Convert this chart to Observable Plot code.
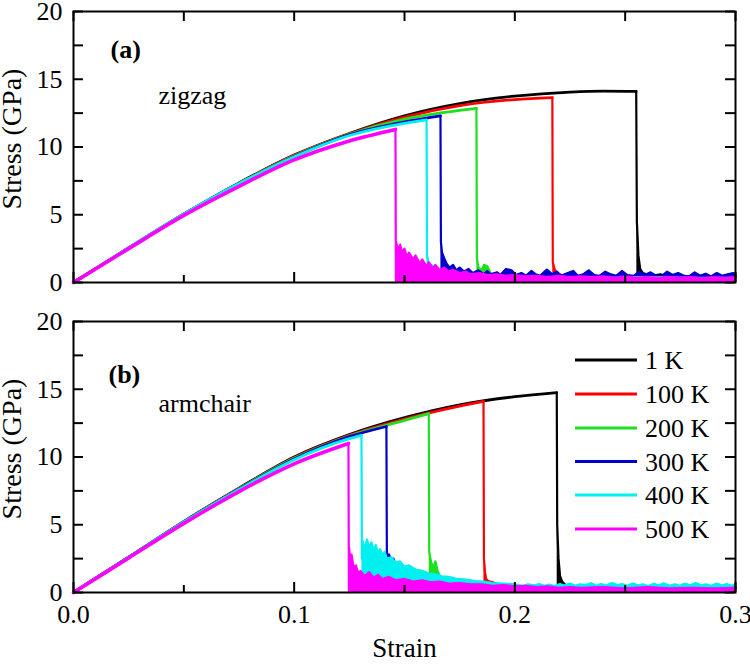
<!DOCTYPE html>
<html><head><meta charset="utf-8">
<script src="https://cdn.jsdelivr.net/npm/d3@7"></script>
<script src="https://cdn.jsdelivr.net/npm/@observablehq/plot@0.6"></script>
<style>
html,body{margin:0;padding:0;background:#fff;}
#chart{position:relative;width:750px;height:670px;}
#chart svg{position:absolute;left:0;display:block;}
</style></head><body><div id="chart"></div>
<script>
const temps = ["1 K", "100 K", "200 K", "300 K", "400 K", "500 K"];
const colors = ["#000000", "#ff0000", "#1fe01f", "#0000cc", "#00f0f0", "#ff00ff"];
const xMajor = [0, 0.1, 0.2, 0.3];
const xMinor = [0.05, 0.15, 0.25];
const yMajor = [0, 5, 10, 15, 20];
const yMinor = [2.5, 7.5, 12.5, 17.5];
const panelTags = ["(a)", "(b)"];
const panelNames = ["zigzag", "armchair"];

// ---- zigzag (a): loading branch [strain, stress GPa]
const zzLoad1K = [[0,0],[0.025,2.55],[0.05,5.05],[0.075,7.35],[0.1,9.4],[0.125,11.0],[0.15,12.3],[0.175,13.2],[0.2,13.75],[0.225,14.05],[0.24,14.12],[0.255,14.1]];
const zzLoad100K = [[0,0],[0.025,2.55],[0.05,5.05],[0.075,7.33],[0.1,9.38],[0.125,10.97],[0.15,12.2],[0.175,13.05],[0.2,13.5],[0.217,13.65]];
const zzLoad200K = [[0,0],[0.025,2.55],[0.05,5.03],[0.075,7.3],[0.1,9.33],[0.125,10.93],[0.15,12.05],[0.175,12.7],[0.1826,12.85]];
const zzLoad300K = [[0,0],[0.025,2.55],[0.05,5.03],[0.075,7.28],[0.1,9.3],[0.125,10.9],[0.15,11.85],[0.1663,12.3]];
const zzLoad400K = [[0,0],[0.025,2.57],[0.05,5.05],[0.075,7.3],[0.1,9.28],[0.125,10.85],[0.15,11.75],[0.16,12.0]];
const zzLoad500K = [[0,0],[0.025,2.5],[0.05,4.95],[0.075,7.1],[0.1,9.05],[0.125,10.45],[0.1459,11.3]];
// ---- zigzag (a): post-fracture branch
const zzTail1K = [[0.2553,4.5],[0.256,2.0],[0.2568,1.0],[0.258,0.7],[0.262,0.5],[0.266,0.6],[0.27,0.4],[0.275,0.55],[0.28,0.4],[0.285,0.5],[0.29,0.35],[0.295,0.5],[0.3,0.4]];
const zzTail100K = [[0.2172,1.5],[0.218,1.0],[0.219,0.7],[0.222,0.5],[0.226,0.6],[0.23,0.4],[0.235,0.5],[0.24,0.4],[0.25,0.45],[0.26,0.4],[0.27,0.45],[0.28,0.4],[0.29,0.4],[0.3,0.35]];
const zzTail200K = [[0.1828,1.8],[0.1835,1.1],[0.185,0.9],[0.186,1.3],[0.1875,1.2],[0.189,0.7],[0.192,0.5],[0.196,0.8],[0.2,0.4],[0.21,0.5],[0.22,0.4],[0.24,0.45],[0.26,0.4],[0.28,0.4],[0.3,0.35]];
const zzTail300K = [[0.1665,3.0],[0.167,2.2],[0.168,1.8],[0.169,1.4],[0.1705,1.1],[0.172,1.3],[0.1735,0.9],[0.175,1.1],[0.177,0.8],[0.179,1.0],[0.181,0.7],[0.1835,0.9],[0.186,0.6],[0.1875,0.85],[0.189,0.6],[0.192,0.75],[0.1935,0.55],[0.196,1.0],[0.1985,0.9],[0.2005,0.55],[0.203,0.7],[0.205,0.5],[0.2075,0.85],[0.2095,0.6],[0.2115,0.5],[0.2145,0.95],[0.217,0.6],[0.219,0.8],[0.221,0.5],[0.224,0.7],[0.2265,0.85],[0.2285,0.5],[0.231,0.6],[0.2335,0.9],[0.236,0.55],[0.2385,0.5],[0.241,0.8],[0.2435,0.6],[0.246,0.5],[0.2485,0.85],[0.251,0.55],[0.254,0.5],[0.2565,0.8],[0.259,0.55],[0.2615,0.75],[0.264,0.5],[0.2665,0.45],[0.269,0.8],[0.2715,0.55],[0.274,0.7],[0.2765,0.5],[0.279,0.45],[0.2815,0.75],[0.284,0.5],[0.2865,0.65],[0.289,0.45],[0.2915,0.7],[0.294,0.5],[0.2965,0.6],[0.299,0.7],[0.3,0.55]];
const zzTail400K = [[0.1602,2.0],[0.161,1.4],[0.163,1.2],[0.165,1.0],[0.168,0.8],[0.172,0.6],[0.18,0.5],[0.19,0.45],[0.2,0.4],[0.22,0.4],[0.24,0.35],[0.26,0.4],[0.28,0.35],[0.3,0.35]];
const zzTail500K = [[0.1461,0],[0.1462,3.0],[0.147,2.4],[0.148,2.8],[0.149,2.2],[0.15,2.5],[0.151,1.9],[0.152,2.2],[0.154,1.7],[0.155,2.0],[0.157,1.4],[0.158,1.7],[0.16,1.2],[0.161,1.5],[0.163,1.0],[0.164,1.3],[0.166,0.9],[0.168,1.1],[0.17,0.8],[0.172,0.95],[0.175,0.7],[0.178,0.8],[0.18,0.6],[0.184,0.7],[0.188,0.55],[0.192,0.6],[0.196,0.5],[0.2,0.55],[0.205,0.45],[0.21,0.5],[0.215,0.4],[0.22,0.5],[0.225,0.4],[0.23,0.45],[0.235,0.4],[0.24,0.45],[0.245,0.35],[0.25,0.45],[0.255,0.35],[0.26,0.4],[0.265,0.35],[0.27,0.4],[0.275,0.35],[0.28,0.4],[0.285,0.3],[0.29,0.4],[0.295,0.35],[0.3,0.4]];

// ---- armchair (b): loading branch
const acLoad1K = [[0,0],[0.025,2.6],[0.05,5.25],[0.075,7.7],[0.1,10.0],[0.125,11.65],[0.15,12.9],[0.175,13.85],[0.2,14.45],[0.219,14.75]];
const acLoad100K = [[0,0],[0.025,2.6],[0.05,5.23],[0.075,7.68],[0.1,9.95],[0.125,11.6],[0.15,12.8],[0.175,13.75],[0.1858,14.1]];
const acLoad200K = [[0,0],[0.025,2.6],[0.05,5.22],[0.075,7.65],[0.1,9.9],[0.125,11.55],[0.15,12.7],[0.161,13.2]];
const acLoad300K = [[0,0],[0.025,2.6],[0.05,5.2],[0.075,7.62],[0.1,9.85],[0.125,11.5],[0.1418,12.25]];
const acLoad400K = [[0,0],[0.025,2.6],[0.05,5.2],[0.075,7.6],[0.1,9.8],[0.125,11.35],[0.1305,11.6]];
const acLoad500K = [[0,0],[0.025,2.55],[0.05,5.1],[0.075,7.45],[0.1,9.5],[0.1246,11.0]];
// ---- armchair (b): post-fracture branch
const acTail1K = [[0.2192,5.0],[0.2198,2.5],[0.2205,1.2],[0.2215,0.8],[0.223,0.55],[0.226,0.45],[0.23,0.5],[0.24,0.4],[0.25,0.45],[0.26,0.4],[0.27,0.45],[0.28,0.4],[0.29,0.45],[0.3,0.4]];
const acTail100K = [[0.186,2.5],[0.1865,1.5],[0.187,1.0],[0.188,0.85],[0.19,0.75],[0.192,0.65],[0.195,0.5],[0.2,0.45],[0.21,0.4],[0.22,0.4],[0.24,0.35],[0.26,0.4],[0.28,0.35],[0.3,0.35]];
const acTail200K = [[0.1612,3.0],[0.162,2.3],[0.163,1.8],[0.164,2.3],[0.165,1.6],[0.166,1.2],[0.168,0.9],[0.169,1.05],[0.172,0.8],[0.175,0.7],[0.18,0.6],[0.185,0.5],[0.19,0.5],[0.2,0.4],[0.22,0.4],[0.25,0.35],[0.3,0.35]];
const acTail300K = [[0.142,3.0],[0.1425,2.6],[0.143,2.8],[0.144,2.3],[0.145,2.5],[0.146,2.0],[0.147,1.8],[0.148,1.5],[0.15,1.3],[0.153,1.2],[0.156,1.1],[0.16,1.0],[0.165,0.9],[0.17,0.85],[0.175,0.8],[0.18,0.75],[0.185,0.7],[0.19,0.6],[0.195,0.5],[0.2,0.45],[0.21,0.4],[0.22,0.4],[0.25,0.35],[0.3,0.35]];
const acTail400K = [[0.1307,2.5],[0.131,3.8],[0.132,3.2],[0.133,3.9],[0.134,3.3],[0.135,3.7],[0.136,3.1],[0.137,3.5],[0.138,2.9],[0.139,3.2],[0.14,2.7],[0.141,3.0],[0.142,2.5],[0.144,2.6],[0.146,2.2],[0.148,2.3],[0.15,1.9],[0.152,2.0],[0.155,1.7],[0.158,1.6],[0.161,1.4],[0.164,1.35],[0.167,1.2],[0.17,1.15],[0.174,1.0],[0.178,0.95],[0.182,0.85],[0.186,0.8],[0.19,0.7],[0.195,0.65],[0.2,0.6],[0.2035,0.5],[0.206,0.6],[0.2085,0.52],[0.211,0.62],[0.2135,0.5],[0.2155,0.58],[0.218,0.48],[0.2205,0.62],[0.2225,0.52],[0.225,0.66],[0.2275,0.5],[0.2295,0.6],[0.232,0.55],[0.2345,0.68],[0.237,0.5],[0.239,0.62],[0.2415,0.52],[0.244,0.7],[0.2465,0.55],[0.2485,0.63],[0.251,0.5],[0.2535,0.66],[0.256,0.52],[0.258,0.6],[0.2605,0.48],[0.263,0.64],[0.2655,0.52],[0.2675,0.68],[0.27,0.5],[0.2725,0.6],[0.275,0.5],[0.277,0.66],[0.2795,0.54],[0.282,0.7],[0.2845,0.52],[0.2865,0.6],[0.289,0.5],[0.2915,0.66],[0.294,0.52],[0.296,0.62],[0.2985,0.5],[0.3,0.6]];
const acTail500K = [[0.1248,0],[0.1249,3.3],[0.1255,2.2],[0.126,2.8],[0.127,1.8],[0.128,2.0],[0.129,1.4],[0.13,1.6],[0.132,1.2],[0.134,1.5],[0.136,1.1],[0.138,1.3],[0.14,1.0],[0.143,1.15],[0.146,0.9],[0.15,1.0],[0.154,0.8],[0.158,0.9],[0.162,0.75],[0.166,0.8],[0.17,0.65],[0.175,0.7],[0.18,0.6],[0.185,0.6],[0.19,0.5],[0.195,0.55],[0.2,0.45],[0.205,0.5],[0.21,0.4],[0.215,0.45],[0.22,0.35],[0.225,0.4],[0.23,0.35],[0.24,0.4],[0.25,0.3],[0.26,0.4],[0.27,0.3],[0.28,0.35],[0.29,0.3],[0.3,0.35]];

const zzLoads = [zzLoad1K, zzLoad100K, zzLoad200K, zzLoad300K, zzLoad400K, zzLoad500K];
const zzTails = [zzTail1K, zzTail100K, zzTail200K, zzTail300K, zzTail400K, zzTail500K];
const acLoads = [acLoad1K, acLoad100K, acLoad200K, acLoad300K, acLoad400K, acLoad500K];
const acTails = [acTail1K, acTail100K, acTail200K, acTail300K, acTail400K, acTail500K];

const FONT = "'Liberation Serif','Times New Roman',serif";
const W = 750, ML = 73, MR = 15, FH = 271;
const FW = W - ML - MR;
const X = d => d[0], Y = d => d[1];

function panel(loads, tails, idx, height, marginTop, marginBottom, showX) {
  const marks = [];
  loads.forEach((load, i) => {
    const tail = tails[i];
    const peak = load[load.length - 1];
    const c = colors[i];
    marks.push(Plot.areaY(tail, {x: X, y: Y, fill: c}));
    marks.push(Plot.line([peak, ...tail], {x: X, y: Y, stroke: c, strokeWidth: 2.2}));
    marks.push(Plot.line(load, {x: X, y: Y, stroke: c, strokeWidth: i === 5 ? 3.6 : 2.8, curve: "monotone-x"}));
  });
  const yAll = [...yMajor, ...yMinor];
  marks.push(
    Plot.tickY(yAll, {y: d => d, insetRight: FW - 10, strokeWidth: 2}),
    Plot.tickY(yAll, {y: d => d, insetLeft: FW - 10, strokeWidth: 2}),
    Plot.tickX(xMajor, {x: d => d, insetTop: FH - 10, strokeWidth: 2}),
    Plot.tickX(xMinor, {x: d => d, insetTop: FH - 7, strokeWidth: 2}),
    Plot.tickX(xMajor, {x: d => d, insetBottom: FH - 10, strokeWidth: 2}),
    Plot.tickX(xMinor, {x: d => d, insetBottom: FH - 10, strokeWidth: 2}),
    Plot.frame({stroke: "black", strokeWidth: 2}),
    Plot.axisY(yMajor, {tickSize: 0, tickPadding: 11, label: null, fontSize: 26}),
    Plot.text([panelTags[idx]], {text: d => d, frameAnchor: "top-left", dx: idx ? 35 : 37, dy: idx ? 53 : 38, textAnchor: "start", lineAnchor: "middle", fontWeight: "bold", fontSize: 26}),
    Plot.text([panelNames[idx]], {text: d => d, frameAnchor: "top-left", dx: 85, dy: idx ? 82 : 84, textAnchor: "start", lineAnchor: "middle", fontSize: 26}),
    Plot.text(["Stress (GPa)"], {text: d => d, frameAnchor: "left", dx: -61, dy: -8, rotate: -90, textAnchor: "middle", lineAnchor: "middle", fontSize: 28})
  );
  if (showX) {
    marks.push(
      Plot.axisX(xMajor, {tickSize: 0, tickPadding: 12, tickFormat: d3.format(".1f"), label: null, fontSize: 26}),
      Plot.text(["Strain"], {text: d => d, frameAnchor: "bottom", dy: 56, textAnchor: "middle", lineAnchor: "middle", fontSize: 27})
    );
  }
  return Plot.plot({
    width: W, height, marginLeft: ML, marginRight: MR, marginTop, marginBottom,
    x: {domain: [0, 0.3], axis: null},
    y: {domain: [0, 20], axis: null},
    style: {fontFamily: FONT, fontSize: "26px", background: "white", color: "black", overflow: "visible"},
    marks
  });
}

const chart = document.getElementById("chart");
const pa = panel(zzLoads, zzTails, 0, 300, 11, 18, false);
pa.style.top = "0px";
chart.appendChild(pa);
const pb = panel(acLoads, acTails, 1, 370, 21, 78, true);
pb.style.top = "300px";
chart.appendChild(pb);

// legend overlay (inside panel b)
const ns = "http://www.w3.org/2000/svg";
const leg = document.createElementNS(ns, "svg");
leg.setAttribute("width", 750); leg.setAttribute("height", 670);
leg.style.top = "0px"; leg.style.pointerEvents = "none";
const rowY = [360, 394, 428, 461.5, 495, 529];
temps.forEach((t, i) => {
  const ln = document.createElementNS(ns, "line");
  ln.setAttribute("x1", 575); ln.setAttribute("x2", 637);
  ln.setAttribute("y1", rowY[i]); ln.setAttribute("y2", rowY[i]);
  ln.setAttribute("stroke", colors[i]); ln.setAttribute("stroke-width", 3);
  leg.appendChild(ln);
  const tx = document.createElementNS(ns, "text");
  tx.setAttribute("x", 645); tx.setAttribute("y", rowY[i] + 9);
  tx.setAttribute("font-family", FONT); tx.setAttribute("font-size", 26);
  tx.textContent = t;
  leg.appendChild(tx);
});
chart.appendChild(leg);
</script></body></html>
